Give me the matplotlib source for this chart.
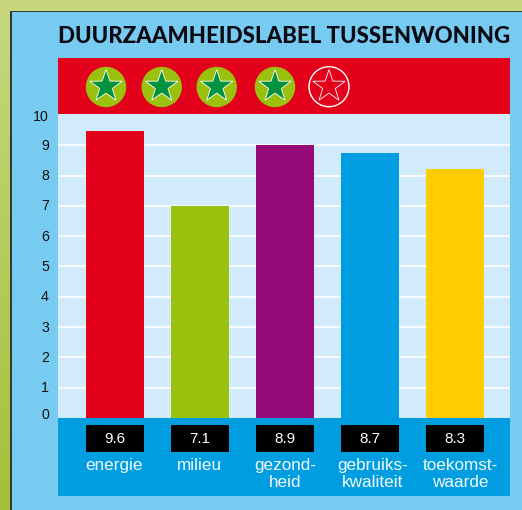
import matplotlib
matplotlib.use("Agg")
import matplotlib.pyplot as plt
from matplotlib.patches import Rectangle, Circle, PathPatch
from matplotlib.path import Path
from matplotlib.colors import LinearSegmentedColormap
from matplotlib.transforms import ScaledTranslation
import numpy as np

categories = ["energie", "milieu", "gezond-\nheid", "gebruiks-\nkwaliteit", "toekomst-\nwaarde"]
bar_heights = [9.47, 7.0, 9.01, 8.75, 8.22]
score_labels = ["9.6", "7.1", "8.9", "8.7", "8.3"]
bar_colors = ["#E2001A", "#9BC10F", "#960A78", "#009EE0", "#FFCC00"]
y_ticks = list(range(0, 11))
star_filled = [True, True, True, True, False]
title = "DUURZAAMHEIDSLABEL TUSSENWONING"

star_centers = [106, 161.7, 216.7, 275, 329]
bar_centers = [115, 200, 285, 370, 455]
label_centers = [114, 199, 285, 372.5, 460]

W, H = 522, 510
fig = plt.figure(figsize=((W + 0.01)/100, (H + 0.01)/100), dpi=100, facecolor="#C8D67F")
bg = fig.add_axes([0, 0, 1, 1])
bg.set_xlim(0, W); bg.set_ylim(H, 0); bg.axis("off")

def rect(x0, y0, x1, y1, c, z=1):
    bg.add_patch(Rectangle((x0, y0), x1-x0, y1-y0, fc=c, ec="none", zorder=z))

strip = LinearSegmentedColormap.from_list("strip", ["#C8D67F", "#A8BE38"])
bg.imshow(np.linspace(0, 1, 256)[:, None], cmap=strip, extent=(0, 11, H, 12),
          aspect="auto", zorder=1)
bg.set_xlim(0, W); bg.set_ylim(H, 0)
rect(10, 11, W, H, "#2E3E30", 2)
rect(12, 12, W, H, "#78CBF0", 3)
rect(58, 58, 510, 114, "#E2001A", 4)
rect(58, 418, 510, 496, "#009EE0", 4)

bg.text(57.5, 36.5, title, fontfamily="Lato", fontweight="black", fontsize=16.0,
        color="#0A0A14", ha="left", va="center", zorder=6)

def star_path(cx, cy, R):
    a = -np.pi/2 + np.arange(10)*np.pi/5
    r = np.where(np.arange(10) % 2 == 0, R, R*0.39)
    pts = np.c_[cx + r*np.cos(a), cy + r*np.sin(a)]
    return Path(np.r_[pts, pts[:1]], closed=True)

for cx, filled in zip(star_centers, star_filled):
    cy = 87
    if filled:
        bg.add_patch(Circle((cx, cy), 20.2, fc="#9BC10F", ec="none", zorder=5))
        bg.add_patch(PathPatch(star_path(cx, cy - 0.5, 17), fc="#00923F", ec="white", lw=0.6, zorder=6))
    else:
        bg.add_patch(Circle((cx, cy - 0.3), 20, fc="none", ec="white", lw=1.0, zorder=5))
        bg.add_patch(PathPatch(star_path(cx, cy - 0.5, 17), fc="none", ec="white", lw=0.6, zorder=6))

ax = fig.add_axes([58/W, 1-418/H, 452/W, (418-114)/H], facecolor="#D2EBFA", zorder=2)
ax.set_xlim(58, 510)
ax.set_ylim(0, 304/30.3)
ax.set_yticks(y_ticks)
ax.set_yticklabels([str(t) for t in y_ticks], fontfamily="Liberation Sans", fontsize=10.2, color="#111111")
ax.tick_params(axis="y", length=0, pad=6.5)
ax.set_xticks([])
for s in ax.spines.values():
    s.set_visible(False)
ax.grid(axis="y", color="white", lw=1.2)
ax.set_axisbelow(True)
gl = ax.get_ygridlines()
gl[0].set_visible(False)
gl[-1].set_visible(False)
# labels sit a pixel above their gridlines; the zero label sits higher still
for lab, t in zip(ax.get_yticklabels(), y_ticks):
    up = 5 if t == 0 else (0 if t == 10 else 1)
    lab.set_transform(lab.get_transform() + ScaledTranslation(0, up/100, fig.dpi_scale_trans))
ax.bar(bar_centers, bar_heights, width=58, color=bar_colors, zorder=3)

fg = fig.add_axes([0, 0, 1, 1], zorder=5)
fg.set_xlim(0, W); fg.set_ylim(H, 0); fg.axis("off")
for x, lx, c, s in zip(bar_centers, label_centers, categories, score_labels):
    fg.add_patch(Rectangle((x-29, 425), 58, 27, fc="black", ec="none"))
    fg.text(x, 439, s, color="white", ha="center", va="center", fontfamily="Liberation Sans", fontsize=11)
    fg.text(lx, 457.5, c, color="#F2FAFF", ha="center", va="top", fontfamily="Liberation Sans",
            fontsize=12.3, linespacing=1.2)

fig.savefig("out.png", dpi=100, facecolor=fig.get_facecolor())
